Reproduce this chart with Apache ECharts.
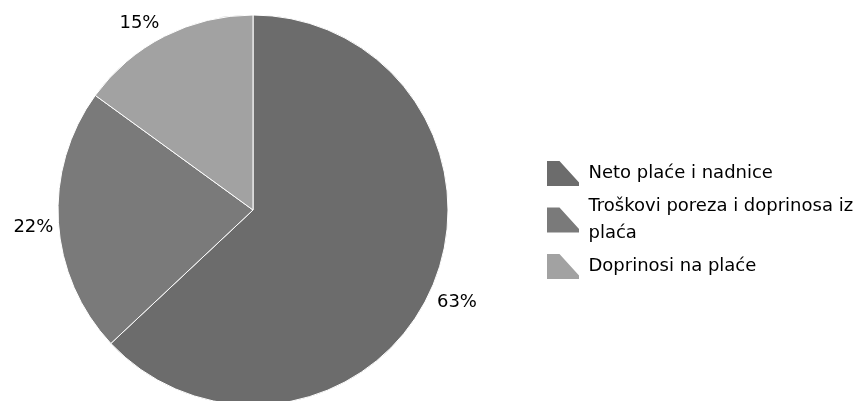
<!DOCTYPE html>
<html>
<head>
<meta charset="utf-8">
<script src="https://cdn.jsdelivr.net/npm/echarts@6/dist/echarts.min.js"></script>
<style>
html,body{margin:0;padding:0;background:#fff;}
#chart{width:856px;height:401px;}
</style>
</head>
<body>
<div id="chart"></div>
<script>
const categories = ['Neto plaće i nadnice', 'Troškovi poreza i doprinosa iz plaća', 'Doprinosi na plaće'];
const legendLabels = ['Neto plaće i nadnice', 'Troškovi poreza i doprinosa iz\nplaća', 'Doprinosi na plaće'];
const values = [63, 22, 15];
const colors = ['#6c6c6c', '#7a7a7a', '#a2a2a2'];

const chart = echarts.init(document.getElementById('chart'), null, {renderer: 'canvas'});
const iconPath = 'path://M0,0 L14,0 L34,22 L34,27 L0,27 Z';
const labelShiftY = [15, 5, -13];

chart.setOption({
  animation: false,
  backgroundColor: '#ffffff',
  textStyle: {fontFamily: 'DejaVu Sans'},
  legend: {
    orient: 'vertical',
    left: 540,
    top: 154,
    itemWidth: 35,
    itemHeight: 27,
    itemGap: 5,
    icon: iconPath,
    data: categories,
    formatter: function (name) { return legendLabels[categories.indexOf(name)]; },
    textStyle: {fontFamily: 'DejaVu Sans', fontSize: 18, color: '#000', lineHeight: 27, padding: [0, 0, 0, 3]},
    selectedMode: false
  },
  series: [{
    type: 'pie',
    center: [253, 210],
    radius: 195,
    startAngle: 90,
    clockwise: true,
    avoidLabelOverlap: false,
    itemStyle: {borderColor: '#ffffff', borderWidth: 1},
    label: {
      show: true,
      position: 'outside',
      formatter: '{d}%',
      fontFamily: 'DejaVu Sans',
      fontSize: 18,
      color: '#000',
      distanceToLabelLine: 5
    },
    labelLine: {show: false, length: 0, length2: 0},
    labelLayout: function (params) { return {dy: labelShiftY[params.dataIndex]}; },
    emphasis: {disabled: true},
    data: categories.map((c, i) => ({name: c, value: values[i], itemStyle: {color: colors[i]}}))
  }]
});
</script>
</body>
</html>
